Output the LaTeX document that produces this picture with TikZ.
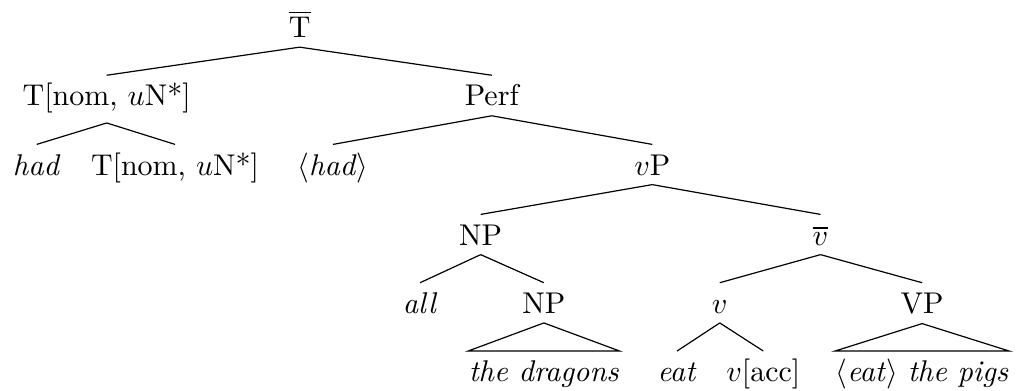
\documentclass[tikz,border=0pt]{standalone}
\usepackage{amsmath, amssymb}
\usepackage{tikz}
\usetikzlibrary{positioning}
\tikzset{
  cat/.style={anchor=base, inner xsep=0pt, inner ysep=3pt, text height=7pt},
  branch/.style={thin},
  roof/.style={thin}
}

\begin{document}
\begin{tikzpicture}
      \useasboundingbox (0,0) rectangle (11.90,4.57);
      % root and first split
      \node[cat] (tbar) at (3.51,4.13) {$\overline{\mathrm{T}}$};
      \node[cat] (tnom) at (1.25,3.33) {T[nom, $u$N*]};
      \node[cat] (perf) at (5.76,3.33) {Perf};
      \draw[branch] (tbar.south) -- (tnom.north);
      \draw[branch] (tbar.south) -- (perf.north);
      % T head
      \node[cat] (had) at (0.43,2.52) {\textit{had}};
      \node[cat] (tnomb) at (2.05,2.52) {T[nom, $u$N*]};
      \draw[branch] (tnom.south) -- (had.north);
      \draw[branch] (tnom.south) -- (tnomb.north);
      % Perf
      \node[cat] (hadcopy) at (3.90,2.52) {$\langle$\textit{had}$\rangle$};
      \node[cat] (vp) at (7.64,2.52) {$v$P};
      \draw[branch] (perf.south) -- (hadcopy.north);
      \draw[branch] (perf.south) -- (vp.north);
      % vP
      \node[cat] (np) at (5.63,1.70) {NP};
      \node[cat] (vbar) at (9.61,1.70) {$\overline{v}$};
      \draw[branch] (vp.south) -- (np.north);
      \draw[branch] (vp.south) -- (vbar.north);
      % subject
      \node[cat] (all) at (4.92,0.90) {\textit{all}};
      \node[cat] (npb) at (6.37,0.90) {NP};
      \draw[branch] (np.south) -- (all.north);
      \draw[branch] (np.south) -- (npb.north);
      \node[cat] (dragons) at (6.37,0.10) {\textit{the dragons}};
      \draw[roof] (npb.south) -- (dragons.north west) -- (dragons.north east) -- cycle;
      % v-bar
      \node[cat] (vhead) at (8.43,0.90) {$v$};
      \node[cat] (vpb) at (10.80,0.90) {VP};
      \draw[branch] (vbar.south) -- (vhead.north);
      \draw[branch] (vbar.south) -- (vpb.north);
      \node[cat] (eat) at (7.93,0.10) {\textit{eat}};
      \node[cat] (vacc) at (8.94,0.10) {$v$[acc]};
      \draw[branch] (vhead.south) -- (eat.north);
      \draw[branch] (vhead.south) -- (vacc.north);
      \node[cat] (pigs) at (10.80,0.10) {$\langle$\textit{eat}$\rangle$ \textit{the pigs}};
      \draw[roof] (vpb.south) -- (pigs.north west) -- (pigs.north east) -- cycle;
    \end{tikzpicture}
\end{document}
